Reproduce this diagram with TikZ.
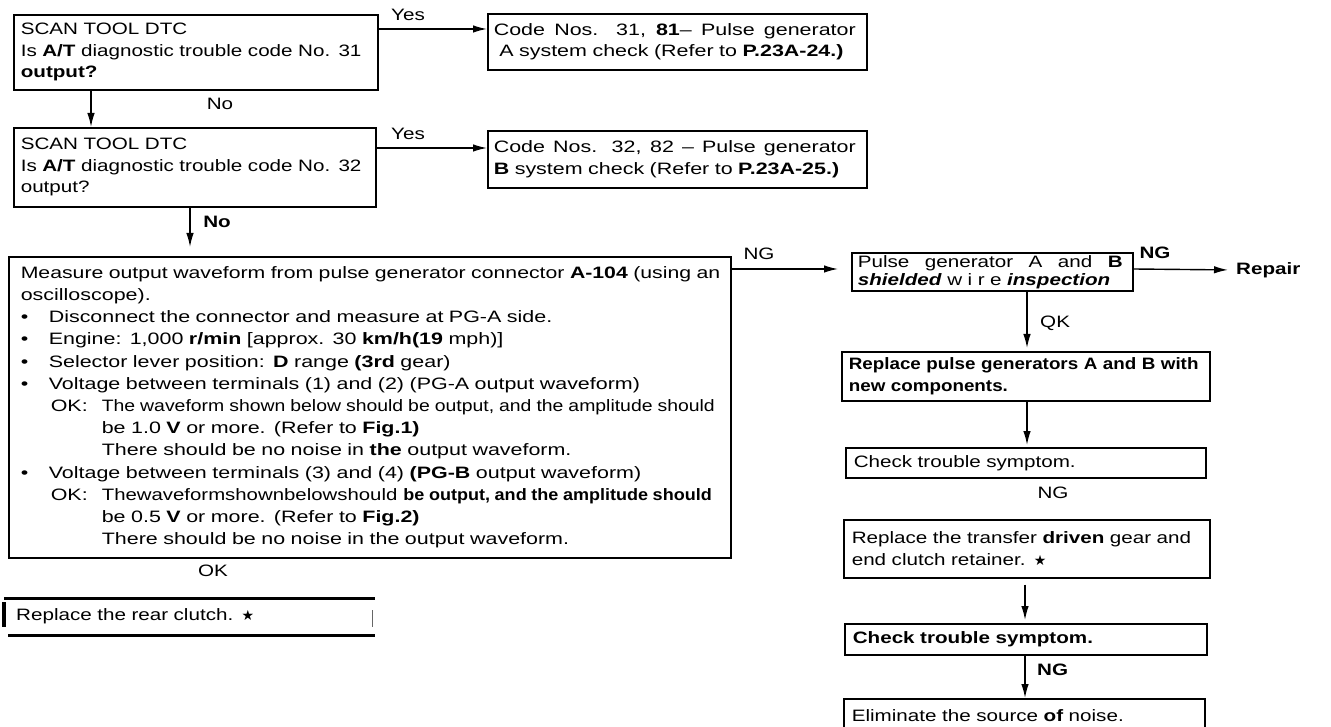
\documentclass[tikz,border=0pt]{standalone}
\usepackage{fontspec}
\usepackage{graphicx}
\setmainfont{Liberation Sans}[FakeStretch=1.25]
\newfontfamily\bigfont{Liberation Sans}[FakeStretch=1.3]
\newfontfamily\symfont{DejaVu Sans}
\newfontfamily\bnarrow{Liberation Sans}[FakeStretch=1.14]
\usetikzlibrary{arrows.meta}
\newcommand{\bstar}{{\symfont\fontsize{14pt}{14pt}\selectfont ★}}
\newcommand{\itembul}{\makebox[28pt][l]{•}}
\newcommand{\okline}{\hspace*{30pt}\makebox[51pt][l]{OK:}}
\newcommand{\indline}{\hspace*{81pt}}
\newcommand{\jline}[2]{\makebox[#1][s]{\spaceskip=0pt\xspaceskip=0pt\relax #2}}
\begin{document}
\begin{tikzpicture}[x=1pt,y=-1pt,
  every node/.style={font=\fontsize{16.5pt}{21.5pt}\selectfont, inner sep=0pt},
  box/.style={draw, line width=1.6pt, anchor=north west, align=left, inner xsep=7pt, inner ysep=2pt},
  lbl/.style={},
  arr/.style={line width=1.4pt, -{Latex[length=14pt,width=7.5pt]}},
]
\fill[white] (0,0) rectangle (1331,727);
\useasboundingbox (0,0) rectangle (1331,727);

% left column
\node[box, text width=350pt, minimum height=75pt] (q1) at (13,14)
  {SCAN TOOL DTC\\Is \textbf{A/T} diagnostic trouble code No. 31\\\textbf{output?}};
\node[box, text width=348pt, minimum height=79pt] (q2) at (13,127)
  {SCAN TOOL DTC\\Is \textbf{A/T} diagnostic trouble code No. 32\\output?};
\node[box, inner xsep=6pt, text width=367pt, minimum height=56pt,
      font=\bigfont\fontsize{16.5pt}{21.5pt}\selectfont] (c31) at (487,13)
  {\jline{362pt}{Code Nos. 31, \textbf{81}– Pulse generator}\\ \ A system check (Refer to \textbf{P.23A-24.)}};
\node[box, inner xsep=6pt, text width=367pt, minimum height=57pt,
      font=\bigfont\fontsize{16.5pt}{21.5pt}\selectfont] (c32) at (487,130)
  {\jline{362pt}{Code Nos. 32, 82 – Pulse generator}\\ \textbf{B} system check (Refer to \textbf{P.23A-25.)}};

\node[box, inner xsep=12pt, text width=698pt, minimum height=301pt,
      font=\bigfont\fontsize{16.5pt}{22.2pt}\selectfont] (big) at (8,256)
  {\scalebox{0.99}[1]{Measure output waveform from pulse generator connector \textbf{A-104} (using an}\\
   oscilloscope).\\
   \itembul Disconnect the connector and measure at PG-A side.\\
   \itembul Engine: 1,000 \textbf{r/min} [approx. 30 \textbf{km/h(19} mph)]\\
   \itembul Selector lever position: \textbf{D} range \textbf{(3rd} gear)\\
   \itembul Voltage between terminals (1) and (2) (PG-A output waveform)\\
   \okline\scalebox{0.905}[1]{The waveform shown below should be output, and the amplitude should}\\
   \indline be 1.0 \textbf{V} or more. (Refer to \textbf{Fig.1)}\\
   \indline There should be no noise in \textbf{the} output waveform.\\
   \itembul Voltage between terminals (3) and (4) \textbf{(PG-B} output waveform)\\
   \okline\scalebox{0.95}[1]{Thewaveformshownbelowshould}\hspace{6pt}\scalebox{0.84}[1]{\textbf{be output, and the amplitude should}}\\
   \indline be 0.5 \textbf{V} or more. (Refer to \textbf{Fig.2)}\\
   \indline There should be no noise in the output waveform.};

\node[anchor=north west, minimum width=371pt, minimum height=37pt, inner xsep=12pt,
      text width=347pt, align=left] (rc) at (4,598) {Replace the rear clutch. \bstar};
\draw[line width=3pt] (rc.north west) -- (rc.north east);
\draw[line width=3pt] ([xshift=4pt]rc.south west) -- (rc.south east);
\draw[line width=3.5pt] ([yshift=-4pt]rc.north west) -- ([yshift=8pt]rc.south west);
\draw[line width=1pt, black!60] ([xshift=-3pt,yshift=-12pt]rc.north east) -- ([xshift=-3pt,yshift=8pt]rc.south east);

% right column
\node[box, inner xsep=6pt, inner ysep=1pt, text width=269pt, minimum height=38pt,
      font=\fontsize{16.5pt}{18pt}\selectfont] (pg) at (851,252)
  {\jline{265pt}{Pulse generator A and \textbf{B}}\\\textbf{\textit{shielded}} w i r e \textbf{\textit{inspection}}};
\node[box, text width=354pt, minimum height=49pt,
      font=\bnarrow\bfseries\fontsize{16.5pt}{21.5pt}\selectfont] (rp) at (841,351)
  {Replace pulse generators A and B with\\new components.};
\node[box, inner xsep=8pt, text width=344pt, minimum height=30pt] (ck1) at (845,447)
  {Check trouble symptom.};
\node[box, inner xsep=8pt, text width=350pt, minimum height=58pt] (rt) at (843,519)
  {Replace the transfer \textbf{driven} gear and\\end clutch retainer. \bstar};
\node[box, inner xsep=8pt, text width=346pt, minimum height=31pt,
      font=\bfseries\fontsize{16.5pt}{21.5pt}\selectfont] (ck2) at (844,623)
  {Check trouble symptom.};
\node[box, inner xsep=8pt, inner ysep=0pt, text width=345pt, minimum height=34pt] (el) at (843,698)
  {Eliminate the source \textbf{of} noise.};

% labels
\node[lbl] (yes1) at (408,15) {Yes};
\node[lbl] (yes2) at (408,134) {Yes};
\node[lbl] (no1) at (220,104) {No};
\node[lbl] (no2) at (217,222) {\textbf{No}};
\node[lbl] (ng1) at (759,254) {NG};
\node[lbl] (ng2) at (1155,253) {\textbf{NG}};
\node[lbl, anchor=west] (repair) at (1236,270) {\textbf{Repair}};
\node[lbl, anchor=west] (qk) at (1040,323) {QK};
\node[lbl] (ok1) at (213,571) {OK};
\node[lbl] (ng3) at (1053,493) {NG};
\node[lbl, anchor=west] (ng4) at (1037,670) {\textbf{NG}};

% connectors
\draw[arr] ([yshift=-15pt]q1.north east) -- ([yshift=-16pt]c31.north west);
\draw[arr] ([yshift=-21pt]q2.north east) -- ([yshift=-18pt]c32.north west);
\draw[arr] ([xshift=78pt]q1.south west) -- ([xshift=78pt]q2.north west);
\draw[arr, shorten >=9pt] ([xshift=177pt]q2.south west) -- ([xshift=182pt]big.north west);
\draw[arr, shorten >=13pt] ([yshift=-13pt]big.north east) -- ([yshift=-17pt]pg.north west);
\draw[arr, shorten >=8pt] ([yshift=-17pt]pg.north east) -- (repair.west);
\draw[arr, shorten >=3pt] ([xshift=176pt]pg.south west) -- ([xshift=186pt]rp.north west);
\draw[arr, shorten >=2pt] ([xshift=186pt]rp.south west) -- ([xshift=182pt]ck1.north west);
\draw[arr, shorten <=6pt, shorten >=3pt] ([xshift=182pt]rt.south west) -- ([xshift=181pt]ck2.north west);
\draw[arr] ([xshift=181pt]ck2.south west) -- ([xshift=182pt]el.north west);
\end{tikzpicture}
\end{document}
